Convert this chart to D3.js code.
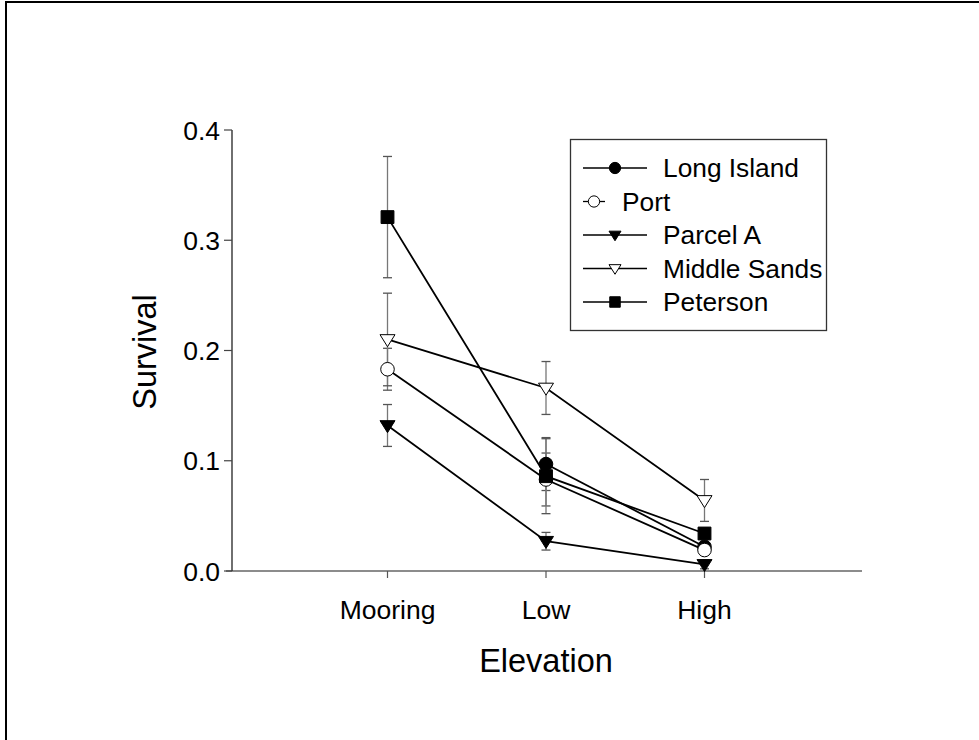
<!DOCTYPE html>
<html><head><meta charset="utf-8">
<script src="https://cdn.jsdelivr.net/npm/d3@7/dist/d3.min.js"></script>
<style>body{margin:0;background:#fff}svg{display:block}text{font-family:Arial,"Liberation Sans",sans-serif}</style>
</head><body><svg id="c" width="979" height="740"></svg>
<script>
const categories = ["Mooring","Low","High"];
const seriesNames = ["Long Island","Port","Parcel A","Middle Sands","Peterson"];
const longIsland = [null, 0.097, 0.022];
const longIslandErr = [null, 0.024, 0.004];
const port = [0.183, 0.083, 0.019];
const portErr = [0.019, 0.024, 0.004];
const parcelA = [0.132, 0.027, 0.006];
const parcelAErr = [0.019, 0.008, 0.004];
const middleSands = [0.210, 0.166, 0.064];
const middleSandsErr = [0.042, 0.024, 0.019];
const peterson = [0.321, 0.086, 0.034];
const petersonErr = [0.055, 0.034, 0.005];
const yTicks = [0.0, 0.1, 0.2, 0.3, 0.4];

const values = [longIsland, port, parcelA, middleSands, peterson];
const errs = [longIslandErr, portErr, parcelAErr, middleSandsErr, petersonErr];
const symbols = [
  {type: d3.symbolCircle, fill: "#000", size: 145, lsize: 100},
  {type: d3.symbolCircle, fill: "#fff", size: 145, lsize: 100},
  {type: "tri", fill: "#000", size: 15, lsize: 12},
  {type: "tri", fill: "#fff", size: 15, lsize: 12},
  {type: d3.symbolSquare, fill: "#000", size: 165, lsize: 110}
];

const svg = d3.select("#c");
// frame
svg.append("line").attr("x1",6).attr("x2",979).attr("y1",2).attr("y2",2).attr("stroke","#000").attr("stroke-width",2);
svg.append("line").attr("x1",6).attr("x2",6).attr("y1",1).attr("y2",740).attr("stroke","#000").attr("stroke-width",2);

const x = d3.scaleLinear().domain([0,4]).range([229, 863]);
const y = d3.scaleLinear().domain([0,0.4]).range([571,130]);

// x axis
const gx = svg.append("g").attr("transform","translate(0,571)");
gx.append("line").attr("x1",226).attr("x2",862).attr("stroke","#8c8c8c").attr("stroke-width",2);
categories.forEach((c,i)=>{
  gx.append("line").attr("x1",x(i+1)).attr("x2",x(i+1)).attr("y1",0).attr("y2",7).attr("stroke","#555").attr("stroke-width",1.2);
  gx.append("text").attr("x",x(i+1)).attr("y",48).attr("text-anchor","middle").attr("font-size",26.5).text(c);
});
// y axis
const gy = svg.append("g").attr("transform","translate(232,0)");
gy.append("line").attr("y1",y(0.4)).attr("y2",y(0)).attr("stroke","#222").attr("stroke-width",1.3);
yTicks.forEach(t=>{
  gy.append("line").attr("x1",-8).attr("x2",0).attr("y1",y(t)).attr("y2",y(t)).attr("stroke","#444").attr("stroke-width",1.2);
  gy.append("text").attr("x",-12).attr("y",y(t)).attr("dy","0.36em").attr("text-anchor","end").attr("font-size",26.5).text(t.toFixed(1));
});
svg.append("text").attr("x",546).attr("y",672).attr("text-anchor","middle").attr("font-size",32.5).text("Elevation");
svg.append("text").attr("transform","translate(156,352) rotate(-90)").attr("text-anchor","middle").attr("font-size",32.5).text("Survival");

function drawSym(g, s, cx, cy, legend){
  const sz = legend ? s.lsize : s.size;
  if (s.type === "tri") {
    const w = sz/2, h = sz*0.8;
    g.append("path").attr("d",`M${cx-w},${cy-h*0.4}L${cx+w},${cy-h*0.4}L${cx},${cy+h*0.6}Z`)
      .attr("fill",s.fill).attr("stroke","#000").attr("stroke-width",1);
  } else {
    g.append("path").attr("transform",`translate(${cx},${cy})`).attr("d",d3.symbol().type(s.type).size(sz)())
      .attr("fill",s.fill).attr("stroke","#000").attr("stroke-width",1);
  }
}

const plot = svg.append("g");
// error bars
values.forEach((vals,si)=>{
  vals.forEach((v,i)=>{
    if (v===null) return;
    const e = errs[si][i], cx = x(i+1);
    plot.append("line").attr("x1",cx).attr("x2",cx).attr("y1",y(v+e)).attr("y2",y(v-e)).attr("stroke","#777").attr("stroke-width",1.3);
    [v+e, v-e].forEach(t=>plot.append("line").attr("x1",cx-4.5).attr("x2",cx+4.5).attr("y1",y(t)).attr("y2",y(t)).attr("stroke","#555").attr("stroke-width",1.3));
  });
});
// lines
const line = d3.line().defined(d=>d.v!==null).x(d=>x(d.i+1)).y(d=>y(d.v));
values.forEach((vals,si)=>{
  plot.append("path").attr("d", line(vals.map((v,i)=>({v,i})))).attr("fill","none").attr("stroke","#000").attr("stroke-width",1.8);
});
values.forEach((vals,si)=>{
  vals.forEach((v,i)=>{ if (v!==null) drawSym(plot, symbols[si], x(i+1), y(v), false); });
});

// legend
const lg = svg.append("g");
lg.append("rect").attr("x",570.5).attr("y",139.5).attr("width",256).attr("height",191).attr("fill","#fff").attr("stroke","#333").attr("stroke-width",1.3);
const rowY = d3.scalePoint().domain(seriesNames).range([168, 302]);
seriesNames.forEach((n,si)=>{
  const ry = rowY(n);
  const short = si===1;
  const x1 = 583, x2 = short ? 605 : 647, mx = short ? 594 : 615, tx = short ? 622 : 663;
  lg.append("line").attr("x1",x1).attr("x2",x2).attr("y1",ry).attr("y2",ry).attr("stroke","#000").attr("stroke-width",1.3);
  drawSym(lg, symbols[si], mx, ry, true);
  lg.append("text").attr("x",tx).attr("y",ry).attr("dy","0.36em").attr("font-size",26.3).text(n);
});
</script></body></html>
